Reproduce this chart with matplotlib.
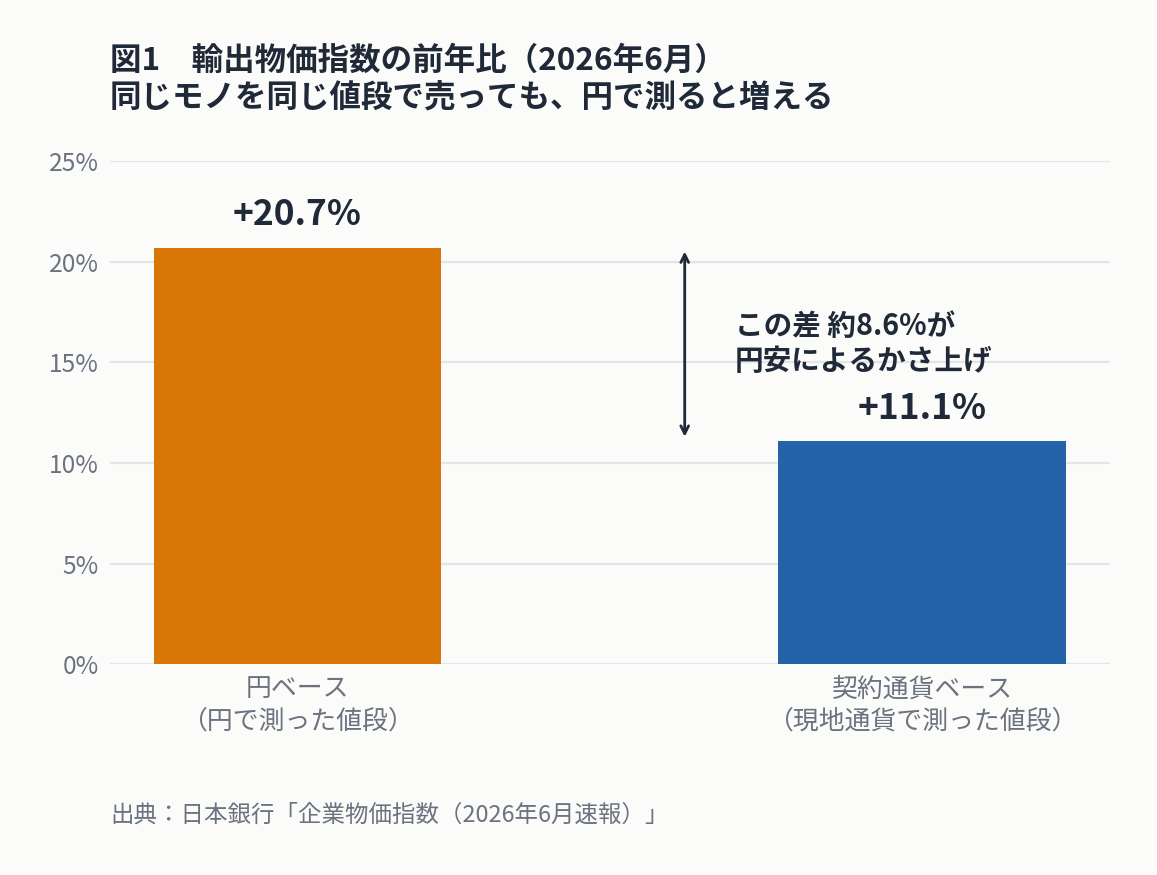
import matplotlib
matplotlib.use("Agg")
import matplotlib.pyplot as plt

plt.rcParams['font.family'] = ['Noto Sans CJK JP', 'DejaVu Sans']

# data
categories = ["円ベース\n（円で測った値段）", "契約通貨ベース\n（現地通貨で測った値段）"]
values = [20.7, 11.1]
value_labels = ["+20.7%", "+11.1%"]
bar_colors = ["#D97706", "#2563A8"]
yticks = [0, 5, 10, 15, 20, 25]
ytick_labels = ["0%", "5%", "10%", "15%", "20%", "25%"]

title = "図1　輸出物価指数の前年比（2026年6月）\n同じモノを同じ値段で売っても、円で測ると増える"
note = "この差 約8.6%が\n円安によるかさ上げ"
source = "出典：日本銀行「企業物価指数（2026年6月速報）」"

bg = "#FBFBF9"
dark = "#1F2937"
gray = "#6B7280"
grid = "#E3E5EA"

fig = plt.figure(figsize=(11.57, 8.75), dpi=100, facecolor=bg)
ax = fig.add_axes([0.095, 0.241, 0.864, 0.575], facecolor=bg)

x = list(range(len(categories)))
ax.bar(x, values, width=0.46, color=bar_colors, zorder=3)

for xi, v, lab in zip(x, values, value_labels):
    ax.text(xi, v + 0.75, lab, ha='center', va='bottom', fontsize=25.5,
            fontweight='bold', color=dark)

ax.set_xlim(-0.3, 1.3)
ax.set_ylim(0, 25)
ax.set_yticks(yticks)
ax.set_yticklabels(ytick_labels)
ax.set_xticks(x)
ax.set_xticklabels(categories, linespacing=1.25)
ax.tick_params(axis='y', length=0, labelsize=17.7, labelcolor=gray, pad=8)
ax.tick_params(axis='x', length=0, labelsize=18.6, labelcolor=gray, pad=8)
ax.grid(axis='y', color=grid, linewidth=1.6, zorder=0)
for s in ax.spines.values():
    s.set_visible(False)

# gap arrow
ax.annotate("", xy=(0.62, values[0] - 0.2), xytext=(0.62, values[1] + 0.2),
            arrowprops=dict(arrowstyle='<->', color=dark, lw=2,
                            shrinkA=0, shrinkB=0, mutation_scale=14))
ax.text(0.70, 15.95, note, ha='left', va='center', fontsize=20.6,
        fontweight='bold', color=dark, linespacing=1.2)

fig.text(0.095, 0.909, title, ha='left', va='center', fontsize=22.7,
         fontweight='bold', color=dark, linespacing=1.2)
fig.text(0.095, 0.068, source, ha='left', va='center', fontsize=16.9, color=gray)

fig.savefig("out.png", dpi=100, facecolor=bg)
